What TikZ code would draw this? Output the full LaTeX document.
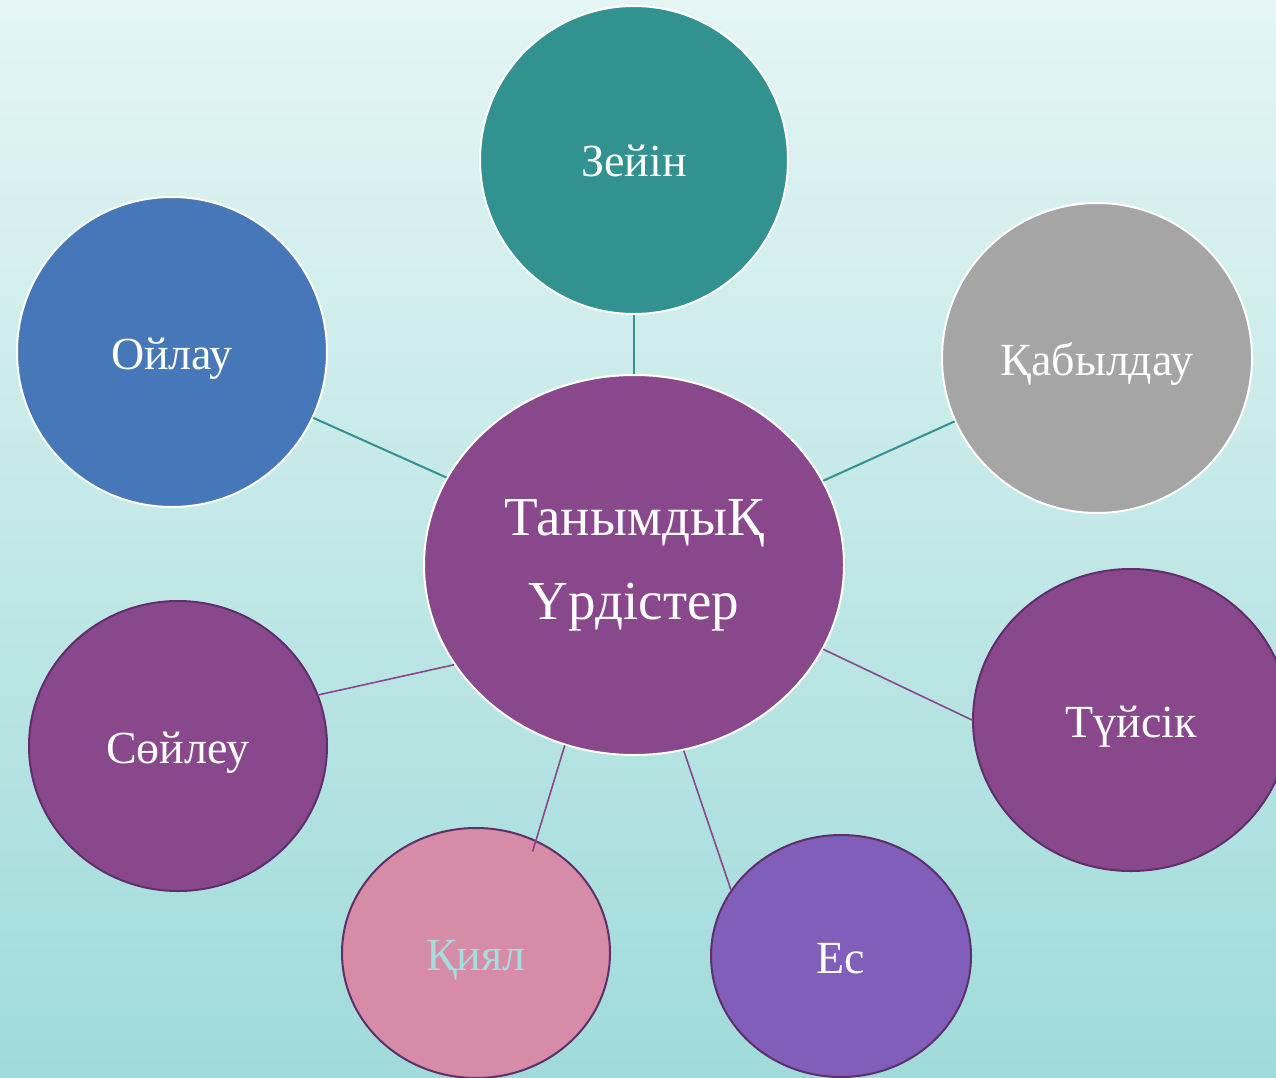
\documentclass[tikz,border=0pt]{standalone}
\usepackage{fontspec}
\setmainfont{Liberation Serif}
\usetikzlibrary{shapes.geometric}

\definecolor{bgtop}{HTML}{E4F5F4}
\definecolor{bgbot}{HTML}{9FDBDA}
\definecolor{tealfill}{HTML}{31928F}
\definecolor{bluefill}{HTML}{4677B8}
\definecolor{grayfill}{HTML}{A5A5A5}
\definecolor{plumfill}{HTML}{8A488C}
\definecolor{plumedge}{HTML}{5F2F6A}
\definecolor{pinkfill}{HTML}{D68BA6}
\definecolor{violetfill}{HTML}{805EBA}
\definecolor{paletext}{HTML}{A5DCDC}

\begin{document}
\begin{tikzpicture}[x=1pt,y=-1pt,
    bubble/.style={ellipse,inner sep=0pt,text=white,line width=2pt,
        font=\fontsize{46}{52}\selectfont,text height=34pt,text depth=0pt},
    topbubble/.style={bubble,draw=white},
    lowbubble/.style={bubble,draw=plumedge},
    tealline/.style={draw=tealfill,line width=2pt},
    plumline/.style={draw=plumfill,line width=1.6pt}]
        % Background
        \useasboundingbox (0,0) rectangle (1276,1078);
        \clip (0,0) rectangle (1276,1078);
        \shade[top color=bgtop,bottom color=bgbot] (0,0) rectangle (1276,1078);

        % Centre
        \node[topbubble,fill=plumfill,minimum width=420pt,minimum height=380pt,
            align=center,text height=,text depth=,
            font=\fontsize{55}{84}\selectfont] (tanym) at (634,565)
            {ТанымдыҚ\\Үрдістер};

        % Upper circles
        \node[topbubble,fill=tealfill,minimum size=308pt] (zeyin) at (634,160) {Зейін};
        \node[topbubble,fill=bluefill,minimum size=310pt] (oylau) at (172,352) {Ойлау};
        \node[topbubble,fill=grayfill,minimum size=310pt] (kabyldau) at (1097,358) {Қабылдау};

        % Lower circles
        \node[lowbubble,fill=plumfill,minimum width=316pt,minimum height=302pt] (tuysik) at (1131,720) {Түйсік};
        \node[lowbubble,fill=plumfill,minimum width=298pt,minimum height=290pt] (soyleu) at (178,746) {Сөйлеу};
        \node[lowbubble,fill=pinkfill,text=paletext,minimum width=268pt,minimum height=250pt] (kiyal) at (476,953) {Қиял};
        \node[lowbubble,fill=violetfill,minimum width=260pt,minimum height=242pt] (es) at (841,956) {Ес};

        % Connectors
        \draw[tealline] (tanym.90) -- (zeyin.-90);
        \draw[tealline] (tanym.155) -- (oylau.-25);
        \draw[tealline] (tanym.24) -- (kabyldau.-156);
        \draw[plumline] (tanym.-24) -- (tuysik.180);
        \draw[plumline] (tanym.-151) -- (soyleu.20);
        \draw[plumline,shorten >=-12pt] (tanym.-111) -- (kiyal.62);
        \draw[plumline] (tanym.-75) -- (es.149);
    \end{tikzpicture}
\end{document}
